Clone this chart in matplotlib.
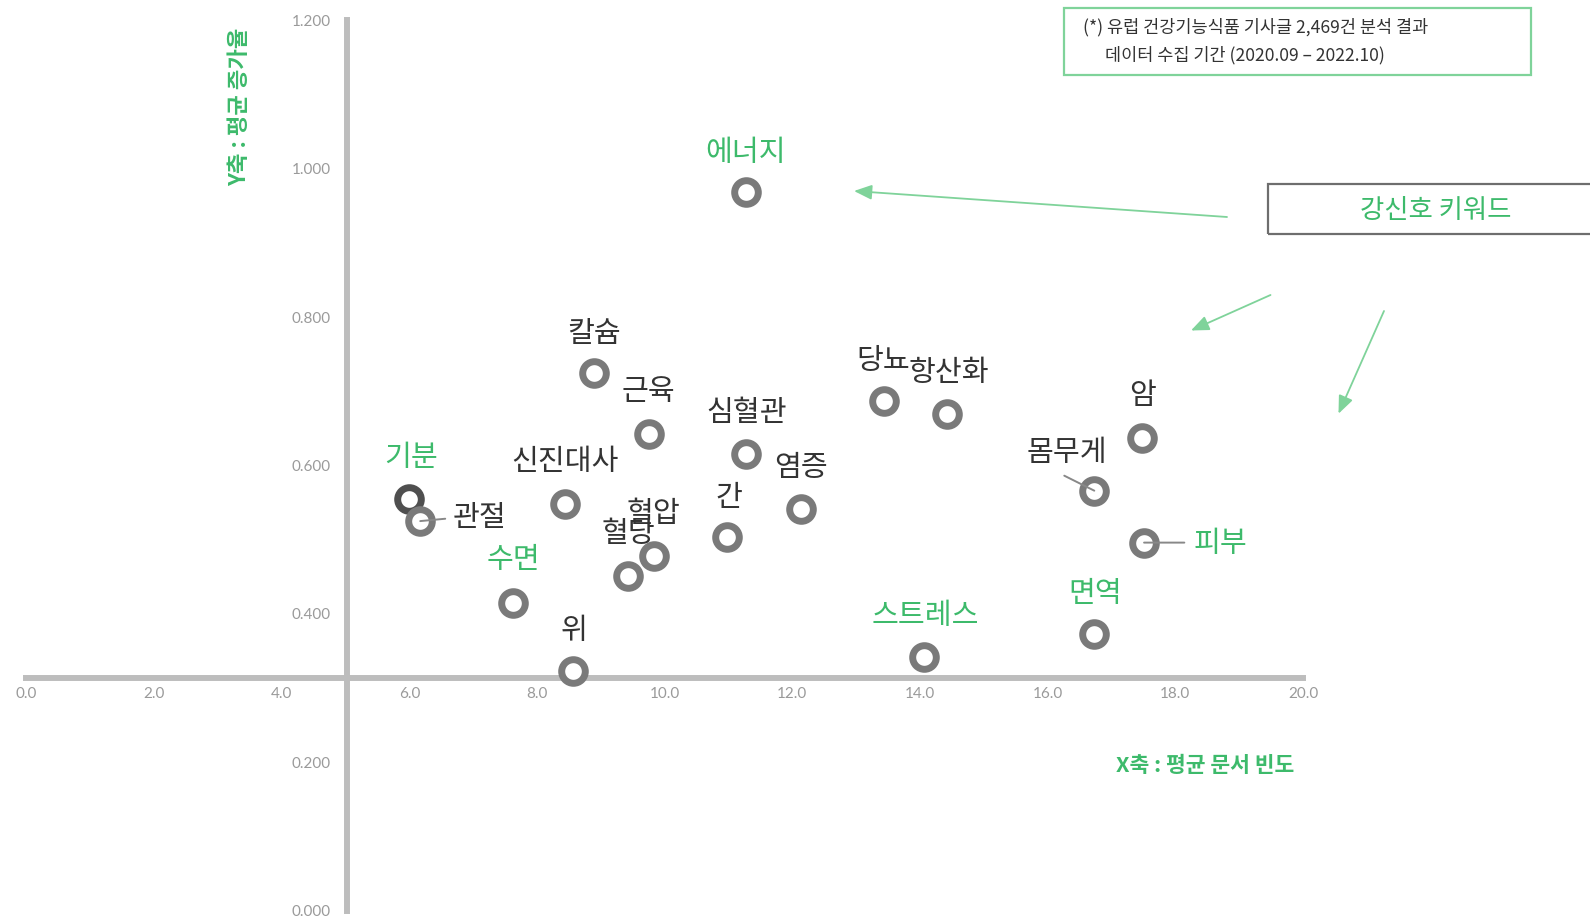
import matplotlib
matplotlib.use("Agg")
import matplotlib.pyplot as plt
from matplotlib.patches import Rectangle

plt.rcParams['font.family'] = ['Noto Sans CJK KR', 'DejaVu Sans']

# ---- data ----
keywords = ["에너지", "칼슘", "근육", "심혈관", "당뇨", "항산화", "암", "몸무게", "피부",
            "면역", "스트레스", "염증", "간", "혈압", "혈당", "위", "수면", "신진대사",
            "기분", "관절"]
doc_freq = [11.27, 8.89, 9.75, 11.27, 13.43, 14.43, 17.48, 16.73, 17.51,
            16.73, 14.06, 12.13, 10.98, 9.83, 9.43, 8.56, 7.63, 8.44,
            6.00, 6.17]
growth = [0.968, 0.724, 0.642, 0.616, 0.687, 0.670, 0.637, 0.566, 0.496,
          0.373, 0.342, 0.541, 0.503, 0.478, 0.451, 0.323, 0.414, 0.548,
          0.555, 0.525]
highlight = ["에너지", "피부", "면역", "스트레스", "수면", "기분"]
x_ticks = [0, 2, 4, 6, 8, 10, 12, 14, 16, 18, 20]
y_ticks = [0.0, 0.2, 0.4, 0.6, 0.8, 1.0, 1.2]
x_cross = 5.03
y_cross = 0.314

# ---- style / layout ----
GREEN = "#3dba6b"
DARK = "#333333"
RING = "#7a7a7a"
AXIS = "#bdbdbd"
label_offsets = {
    "에너지": (0, 28.5), "칼슘": (0, 28.5), "근육": (0, 30.5), "심혈관": (1, 29.5),
    "당뇨": (0, 28.5), "항산화": (1, 29.5), "암": (0, 30.5), "몸무게": (-20, 27),
    "피부": (55, -1), "면역": (1, 28.5), "스트레스": (1, 29.5), "염증": (0, 29.5),
    "간": (1, 28.5), "혈압": (0, 30.5), "혈당": (0, 30.5), "위": (1, 28.5),
    "수면": (0, 31.5), "신진대사": (0, 30.5), "기분": (1, 29.5), "관절": (43, 2.5),
}
leaders = {"관절": (18, 1.7), "피부": (29, 0), "몸무게": (-21.6, 10.8)}

W, H = 1590, 922
fig = plt.figure(figsize=(W / 100, H / 100), dpi=100)
ax = fig.add_axes([26.4 / W, (H - 910.6) / H, (1303 - 26.4) / W, (910.6 - 20.3) / H])
ax.set_xlim(0, 20)
ax.set_ylim(0, 1.2)

for s in ["top", "right"]:
    ax.spines[s].set_visible(False)
ax.spines["left"].set_position(("data", x_cross))
ax.spines["bottom"].set_position(("data", y_cross))
for s in ["left", "bottom"]:
    ax.spines[s].set_color(AXIS)
    ax.spines[s].set_linewidth(4.3)
    ax.spines[s].set_zorder(1)

ax.set_xticks(x_ticks)
ax.set_xticklabels([f"{v:.1f}" for v in x_ticks])
ax.set_yticks(y_ticks)
ax.set_yticklabels([f"{v:.3f}" for v in y_ticks])
ax.tick_params(axis="both", length=0, colors="#9a9a9a", labelsize=11)
ax.tick_params(axis="x", pad=7)
ax.tick_params(axis="y", pad=12)
for lab in ax.get_xticklabels() + ax.get_yticklabels():
    lab.set_fontfamily(["Lato", "DejaVu Sans"])

# points
for kw, xv, yv in zip(keywords, doc_freq, growth):
    col = "#4f4f4f" if kw == "기분" else RING
    z = 3 if kw == "기분" else 4
    ax.scatter([xv], [yv], s=17 ** 2, facecolors="white", edgecolors=col,
               linewidths=5, zorder=z)

# labels
for kw, xv, yv in zip(keywords, doc_freq, growth):
    col = GREEN if kw in highlight else DARK
    ax.annotate(kw, (xv, yv), xytext=label_offsets[kw], textcoords="offset points",
                ha="center", va="center", fontsize=21, color=col, zorder=6)
    if kw in leaders:
        ax.annotate("", (xv, yv), xytext=leaders[kw], textcoords="offset points",
                    arrowprops=dict(arrowstyle="-", color="#888888", lw=1.4,
                                    shrinkA=0, shrinkB=0), zorder=5)


def fx(px):
    return px / W


def fy(py):
    return 1 - py / H


# axis titles
fig.text(fx(240), fy(107), "Y축 : 평균 증가율", rotation=90, ha="center", va="center",
         fontsize=16, color=GREEN, fontweight="bold")
fig.text(fx(1205), fy(765), "X축 : 평균 문서 빈도", ha="center", va="center",
         fontsize=15.5, color=GREEN, fontweight="bold")

# info box
fig.patches.append(Rectangle((fx(1064), fy(75)), fx(1531) - fx(1064), fy(8) - fy(75),
                             transform=fig.transFigure, fill=False,
                             edgecolor="#7fd39a", lw=1.6))
fig.text(fx(1083), fy(27.4), "(*) 유럽 건강기능식품 기사글 2,469건 분석 결과",
         ha="left", va="center", fontsize=12.6, color=DARK)
fig.text(fx(1105), fy(54.8), "데이터 수집 기간 (2020.09 – 2022.10)",
         ha="left", va="center", fontsize=12.6, color=DARK)

# keyword box
fig.patches.append(Rectangle((fx(1267.5), fy(234)), fx(1600) - fx(1267.5), fy(184.5) - fy(234),
                             transform=fig.transFigure, fill=False,
                             edgecolor="#6e6e6e", lw=1.6))
fig.text(fx(1436), fy(210), "강신호 키워드", ha="center", va="center",
         fontsize=19, color=GREEN)

# arrows
arrows = [((1227, 217), (854, 191)), ((1270.5, 295), (1191, 330.5)),
          ((1384, 311), (1338.5, 413.7))]
for (x0, y0), (x1, y1) in arrows:
    fig.add_artist(matplotlib.patches.FancyArrowPatch(
        (fx(x0), fy(y0)), (fx(x1), fy(y1)), transform=fig.transFigure,
        arrowstyle="-|>,head_length=0.6,head_width=0.25", mutation_scale=18,
        color="#7fd39a", lw=1.3, shrinkA=0, shrinkB=0))

fig.savefig("out.png", dpi=100, facecolor="white")
